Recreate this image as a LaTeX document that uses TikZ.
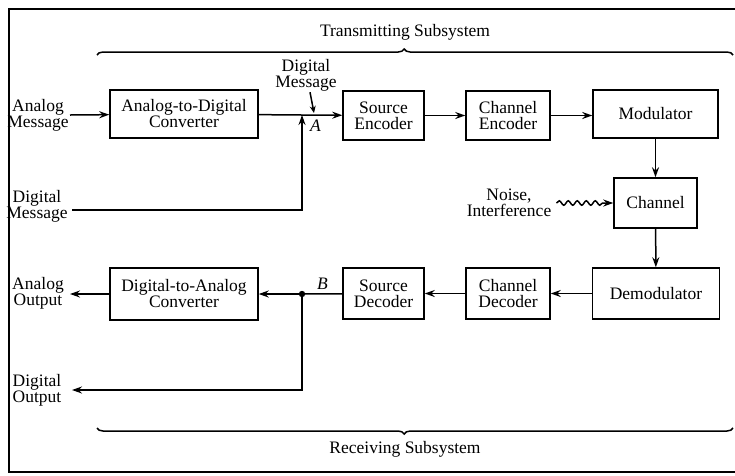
\documentclass[tikz,border=0pt]{standalone}
\usepackage{fontspec}
\setmainfont{Liberation Serif}
\usetikzlibrary{arrows.meta,positioning,decorations.pathreplacing,decorations.pathmorphing}
\tikzset{
	blk/.style={draw,line width=1.5pt,align=center,inner sep=1pt},
	txt/.style={align=center,inner sep=1pt},
	ln/.style={line width=1.5pt},
	ar/.style={ln,-{Stealth[length=10pt,width=7pt]}},
	subsys/.style={ln,decorate,decoration={brace,amplitude=6pt,aspect=#1}}
}

\begin{document}
\begin{tikzpicture}[x=1pt,y=-1pt,font=\fontsize{17.5}{16}\selectfont]
      \useasboundingbox (0,0) rectangle (735,475);
      % frame
      \draw[line width=2.4pt] (735,9) -- (9,9) -- (9,472) -- (735,472);
      % top row
      \node [blk, minimum width=148, minimum height=48] (adc) at (184,114) {Analog-to-Digital\\Converter};
      \node [blk, minimum width=81, minimum height=49] (senc) at (383.5,115.5) {Source\\Encoder};
      \node [blk, minimum width=84, minimum height=49] (cenc) at (508,115.5) {Channel\\Encoder};
      \node [blk, minimum width=125, minimum height=48] (mod) at (655.5,114) {Modulator};
      \node [blk, minimum width=83, minimum height=50] (chan) at (655.5,203) {Channel};
      % bottom row
      \node [blk, minimum width=127, minimum height=51] (demod) at (656,293.5) {Demodulator};
      \node [blk, minimum width=84, minimum height=51] (cdec) at (508,293.5) {Channel\\Decoder};
      \node [blk, minimum width=81, minimum height=51] (sdec) at (383.5,293.5) {Source\\Decoder};
      \node [blk, minimum width=148, minimum height=52] (dac) at (184,294) {Digital-to-Analog\\Converter};
      % texts
      \node [txt] (amsg) at (38,115) {Analog\\Message};
      \node [txt] (dmsg) at (37,206) {Digital\\Message};
      \node [txt] (dmsgA) at (306,75) {Digital\\Message};
      \node [txt] (aout) at (38,293) {Analog\\Output};
      \node [txt] (dout) at (37,390) {Digital\\Output};
      \node [txt] (noise) at (509,203) {Noise,\\Interference};
      \node [txt] (tx) at (405,32) {Transmitting Subsystem};
      \node [txt] (rx) at (405,449) {Receiving Subsystem};
      \coordinate (jA) at (302,115);
      \coordinate (jB) at (302,294);
      \coordinate (amsgE) at (70,115);
      \coordinate (dmsgE) at (72,210);
      \coordinate (aoutE) at (70,294);
      \coordinate (doutE) at (72,390);
      \node [txt, font=\fontsize{17.5}{16}\selectfont\itshape, below right=4pt and 7pt of jA] (lA) {A};
      \node [txt, font=\fontsize{17.5}{16}\selectfont\itshape, above right=3pt and 14pt of jB] (lB) {B};
      % transmitter
      \draw[ar] (amsgE) -- (adc);
      \draw[ln] (adc) -- (jA);
      \draw[ar] (jA) -- (senc);
      \draw[ar] (dmsgE) -| (jA);
      \draw[ln,-{Stealth[length=7pt,width=6pt]}] (dmsgA.south) ++(4,0) -- (314,113);
      \draw[ar] (senc) -- (cenc);
      \draw[ar] (cenc) -- (cenc -| mod.west);
      \draw[ar] (mod) -- (chan);
      \draw[ln,-{Stealth[length=10pt,width=7pt]},decorate,decoration={snake,amplitude=2.2pt,segment length=9pt,post length=8pt}] (noise.east) ++(4,0) -- (chan.west);
      % receiver
      \draw[ar] (chan) -- (demod);
      \draw[ar] (demod) -- (cdec);
      \draw[ar] (cdec) -- (sdec);
      \draw[ln] (sdec) -- (jB);
      \draw[ar] (jB) -- (dac);
      \fill (jB) circle (3.2);
      \draw[ar] (jB) |- (doutE);
      \draw[ar] (dac) -- (aoutE);
      % braces
      \draw[subsys=0.483] (97,55) -- (733,55);
      \draw[subsys=0.517] (733,428) -- (97,428);
   \end{tikzpicture}
\end{document}
